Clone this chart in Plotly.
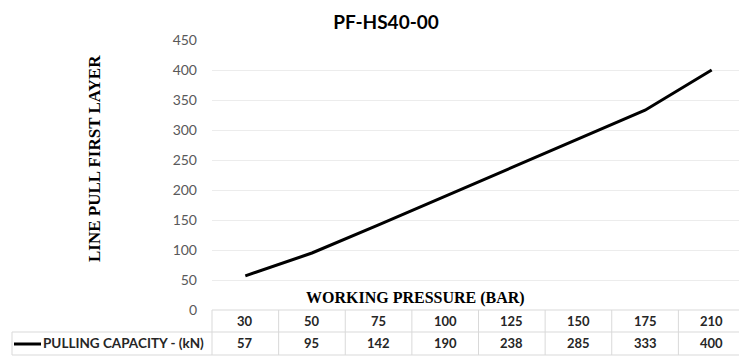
import plotly.graph_objects as go

title = "PF-HS40-00"
pressure = ["30", "50", "75", "100", "125", "150", "175", "210"]
capacity = [57, 95, 142, 190, 238, 285, 333, 400]
series_name = "PULLING CAPACITY - (kN)"
y_title = "LINE PULL FIRST LAYER"
x_title = "WORKING PRESSURE (BAR)"

# the page body has an 8px margin; lay out in screen pixels and compensate
OFF = 8
SW, SH = 747, 356
W, H = SW - OFF, SH - OFF
PL, PR, PT, PB = 212, 745, 40, 310   # plot area in screen pixels
ML = PL - OFF
MR = W - (PR - OFF)
MT = PT - OFF
MB = H - (PB - OFF)
PW = PR - PL
PH = PB - PT

def px_x(px):
    return (px - PL) / PW

def px_y(py):
    return (PB - py) / PH

idx = list(range(len(pressure)))
n = len(pressure)

fig = go.Figure()
fig.add_trace(go.Scatter(x=idx, y=capacity, mode="lines",
                         line=dict(color="#000000", width=3),
                         name=series_name, showlegend=False,
                         hoverinfo="skip"))

grid_col = "#d9d9d9"
shapes = []
shapes.append(dict(type="line", xref="paper", yref="paper", x0=0, x1=1, y0=0, y1=0,
                   line=dict(color=grid_col, width=1)))
shapes.append(dict(type="line", xref="paper", yref="paper", x0=px_x(12), x1=1,
                   y0=px_y(332), y1=px_y(332), line=dict(color=grid_col, width=1)))
shapes.append(dict(type="line", xref="paper", yref="paper", x0=px_x(12), x1=1,
                   y0=px_y(355), y1=px_y(355), line=dict(color=grid_col, width=1)))
for k in range(n + 1):
    shapes.append(dict(type="line", xref="paper", yref="paper", x0=k / n, x1=k / n,
                       y0=0, y1=px_y(355), line=dict(color=grid_col, width=1)))
shapes.append(dict(type="line", xref="paper", yref="paper", x0=px_x(12), x1=px_x(12),
                   y0=px_y(332), y1=px_y(355), line=dict(color=grid_col, width=1)))
# legend key
shapes.append(dict(type="line", xref="paper", yref="paper", x0=px_x(14), x1=px_x(41),
                   y0=px_y(344), y1=px_y(344), line=dict(color="#000000", width=3)))

annotations = []
tfont = dict(family="Lato", size=13, color="#262626")
for i, (p, c) in enumerate(zip(pressure, capacity)):
    annotations.append(dict(x=i, xref="x", y=px_y(321), yref="paper", text="<b>%s</b>" % p,
                            showarrow=False, font=tfont, xanchor="center", yanchor="middle"))
    annotations.append(dict(x=i, xref="x", y=px_y(343), yref="paper", text="<b>%d</b>" % c,
                            showarrow=False, font=tfont, xanchor="center", yanchor="middle"))
annotations.append(dict(x=px_x(41), xref="paper", y=px_y(343), yref="paper",
                        text="<b>%s</b>" % series_name, showarrow=False,
                        font=dict(family="Lato", size=13.5, color="#262626"),
                        xanchor="left", yanchor="middle"))
annotations.append(dict(x=px_x(415), xref="paper", y=px_y(298), yref="paper",
                        text="<b>%s</b>" % x_title, showarrow=False,
                        font=dict(family="Liberation Serif", size=16, color="#000000"),
                        xanchor="center", yanchor="middle"))
annotations.append(dict(x=px_x(94), xref="paper", y=px_y(159), yref="paper",
                        text="<b>%s</b>" % y_title, showarrow=False, textangle=-90,
                        font=dict(family="Liberation Serif", size=17, color="#000000"),
                        xanchor="center", yanchor="middle"))

fig.update_layout(
    width=W, height=H,
    margin=dict(l=ML, r=MR, t=MT, b=MB, pad=0),
    paper_bgcolor="#ffffff", plot_bgcolor="#ffffff",
    title=dict(text="<b>%s</b>" % title, xref="container", yref="container",
               x=(386 - OFF) / W, y=1 - (22 - OFF) / H, xanchor="center", yanchor="middle",
               font=dict(family="Lato", size=19, color="#000000")),
    xaxis=dict(range=[-0.5, n - 0.5], showticklabels=False, showgrid=False,
               zeroline=False, showline=False, ticks=""),
    yaxis=dict(range=[0, 450], dtick=50, tick0=0, showgrid=True, gridcolor="#ececec",
               gridwidth=1, zeroline=False, showline=False, ticks="",
               ticklabelstandoff=14,
               tickfont=dict(family="Lato", size=14, color="#595959")),
    shapes=shapes, annotations=annotations,
)

fig.write_html("out.html")
